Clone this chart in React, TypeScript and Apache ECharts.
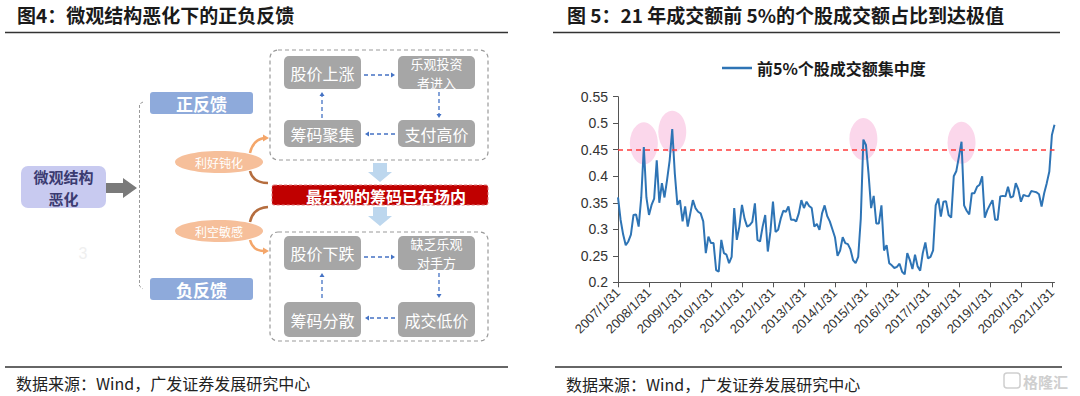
import React, { useEffect, useRef } from "react";
import * as echarts from "echarts";

const CJK = '"Noto Sans CJK SC", "Noto Sans", sans-serif';
const LAT = '"Liberation Sans", Arial, sans-serif';

const leftTitle = "图4：微观结构恶化下的正负反馈";
const rightTitle = "图 5：21 年成交额前 5%的个股成交额占比到达极值";
const sourceText = "数据来源：Wind，广发证券发展研究中心";
const seriesName = "前5%个股成交额集中度";

// monthly values (month-end), 2007/1 .. 2021/2
const v2007 = [0.36, 0.318, 0.29, 0.27, 0.277, 0.29, 0.327, 0.328, 0.305, 0.36, 0.455, 0.36];
const v2008 = [0.327, 0.346, 0.358, 0.43, 0.35, 0.387, 0.36, 0.393, 0.43, 0.489, 0.405, 0.346];
const v2009 = [0.355, 0.315, 0.343, 0.305, 0.33, 0.355, 0.34, 0.333, 0.33, 0.315, 0.255, 0.286];
const v2010 = [0.274, 0.274, 0.223, 0.22, 0.28, 0.255, 0.252, 0.236, 0.248, 0.34, 0.28, 0.305];
const v2011 = [0.346, 0.32, 0.305, 0.308, 0.314, 0.349, 0.28, 0.277, 0.305, 0.327, 0.258, 0.295];
const v2012 = [0.352, 0.295, 0.299, 0.32, 0.335, 0.333, 0.343, 0.318, 0.318, 0.315, 0.33, 0.355];
const v2013 = [0.34, 0.352, 0.344, 0.34, 0.305, 0.31, 0.299, 0.33, 0.345, 0.325, 0.315, 0.3];
const v2014 = [0.285, 0.25, 0.26, 0.285, 0.274, 0.272, 0.262, 0.242, 0.236, 0.248, 0.32, 0.469];
const v2015 = [0.459, 0.405, 0.34, 0.363, 0.311, 0.311, 0.345, 0.26, 0.27, 0.236, 0.232, 0.227];
const v2016 = [0.229, 0.235, 0.22, 0.215, 0.255, 0.242, 0.225, 0.252, 0.23, 0.222, 0.255, 0.275];
const v2017 = [0.245, 0.248, 0.26, 0.345, 0.358, 0.324, 0.352, 0.353, 0.327, 0.322, 0.4, 0.41];
const v2018 = [0.437, 0.465, 0.345, 0.335, 0.328, 0.368, 0.368, 0.38, 0.384, 0.4, 0.322, 0.336];
const v2019 = [0.346, 0.355, 0.318, 0.318, 0.362, 0.363, 0.362, 0.38, 0.36, 0.362, 0.387, 0.375];
const v2020 = [0.352, 0.365, 0.363, 0.362, 0.372, 0.371, 0.37, 0.366, 0.343, 0.368, 0.387, 0.409];
const v2021 = [0.478, 0.497];

const yearly = [v2007, v2008, v2009, v2010, v2011, v2012, v2013, v2014, v2015, v2016, v2017, v2018, v2019, v2020, v2021];
const startYear = 2007;

// highlighted peaks (category index, value)
const peakIdx = [10, 21, 95, 133];
const peakVal = [0.462, 0.484, 0.47, 0.463];

const threshold = 0.45;

const values: number[] = [];
const categories: string[] = [];
yearly.forEach((arr, yi) => {
  arr.forEach((v, mi) => {
    const y = startYear + yi;
    const d = new Date(y, mi + 1, 0).getDate();
    categories.push(`${y}/${mi + 1}/${d}`);
    values.push(v);
  });
});

const isJan = (i: number) => i % 12 === 0;

function txt(x: number, y: number, text: string, font: string, fill: string, align = "center") {
  return {
    type: "text",
    x,
    y,
    style: { text, fill, font, textAlign: align, align, textVerticalAlign: "middle", verticalAlign: "middle" },
  };
}

function boxEls(x: number, y: number, w: number, h: number, fill: string, lines: string[], font: string, color: string, r = 5, lh = 17) {
  const els: any[] = [{ type: "rect", shape: { x, y, width: w, height: h, r }, style: { fill } }];
  const cy = y + h / 2;
  const n = lines.length;
  lines.forEach((t, i) => {
    els.push(txt(x + w / 2, cy + (i - (n - 1) / 2) * lh, t, font, color));
  });
  return els;
}

function dashArrow(x1: number, y1: number, x2: number, y2: number) {
  const dx = x2 - x1, dy = y2 - y1;
  const len = Math.sqrt(dx * dx + dy * dy);
  const ux = dx / len, uy = dy / len;
  const px = -uy, py = ux;
  const hl = 4, hw = 2.5;
  return [
    { type: "line", shape: { x1, y1, x2: x2 - ux * hl, y2: y2 - uy * hl }, style: { stroke: "#4472c4", lineWidth: 1.3, lineDash: [4, 3] } },
    {
      type: "polygon",
      shape: { points: [[x2, y2], [x2 - ux * hl + px * hw, y2 - uy * hl + py * hw], [x2 - ux * hl - px * hw, y2 - uy * hl - py * hw]] },
      style: { fill: "#4472c4" },
    },
  ];
}

const GRAY = "#a6a6a6";
const boxFont = `16px ${CJK}`;
const box2Font = `13px ${CJK}`;

const diagram: any[] = [
  // titles and rules
  txt(17, 14, leftTitle, `bold 19px ${CJK}`, "#1a1a1a", "left"),
  { type: "line", shape: { x1: 5, y1: 32.5, x2: 508, y2: 32.5 }, style: { stroke: "#333", lineWidth: 1.5 } },
  txt(567, 14, rightTitle, `bold 19px ${CJK}`, "#1a1a1a", "left"),
  { type: "line", shape: { x1: 553, y1: 32.5, x2: 1060, y2: 32.5 }, style: { stroke: "#333", lineWidth: 1.5 } },
  { type: "line", shape: { x1: 5, y1: 367, x2: 508, y2: 367 }, style: { stroke: "#666", lineWidth: 2 } },
  { type: "line", shape: { x1: 555, y1: 367, x2: 1062, y2: 367 }, style: { stroke: "#666", lineWidth: 2 } },
  txt(16, 383, sourceText, `16px ${CJK}`, "#222", "left"),
  txt(566, 384, sourceText, `16px ${CJK}`, "#222", "left"),
  // watermark
  { type: "rect", shape: { x: 1004, y: 373, width: 16, height: 15, r: 3 }, style: { fill: "none", stroke: "#cfcfcf", lineWidth: 1.5 } },
  txt(1023, 381, "格隆汇", `bold 15px ${CJK}`, "#cfcfcf", "left"),
  // faint digit
  txt(83, 253, "3", `16px ${LAT}`, "#efefef"),

  // main source box
  ...boxEls(21, 166, 85, 42, "#c8caf0", ["微观结构", "恶化"], `bold 15px ${CJK}`, "#3b3b70", 7, 22),
  { type: "polygon", shape: { points: [[106, 183], [123, 183], [123, 178], [137, 188], [123, 198], [123, 193], [106, 193]] }, style: { fill: "#7a7a7a" } },
  // bracket
  { type: "polyline", shape: { points: [[143, 102], [139.5, 104], [139.5, 286], [143, 289]] }, style: { stroke: "#999", lineWidth: 1, lineDash: [3, 2], fill: "none" } },
  ...boxEls(150, 92, 103, 22, "#8eaadb", ["正反馈"], `bold 17px ${CJK}`, "#ffffff", 3),
  ...boxEls(150, 278, 103, 22, "#8eaadb", ["负反馈"], `bold 17px ${CJK}`, "#ffffff", 3),
  // ellipses
  { type: "ellipse", shape: { cx: 219, cy: 162, rx: 44, ry: 11 }, style: { fill: "#f6bf9a" } },
  txt(219, 162, "利好钝化", `12px ${CJK}`, "#fff"),
  { type: "ellipse", shape: { cx: 219, cy: 231, rx: 44, ry: 11 }, style: { fill: "#f6bf9a" } },
  txt(219, 231, "利空敏感", `12px ${CJK}`, "#fff"),
  // curved arrows
  { type: "bezierCurve", shape: { x1: 250, y1: 153, cpx1: 253, cpy1: 140, x2: 264, y2: 138 }, style: { stroke: "#f4a66a", lineWidth: 2.5, fill: "none" } },
  { type: "polygon", shape: { points: [[263, 134.5], [269, 138], [263, 141.5]] }, style: { fill: "#f4a66a" } },
  { type: "bezierCurve", shape: { x1: 250, y1: 171, cpx1: 253, cpy1: 183, x2: 268, y2: 183 }, style: { stroke: "#b56d3e", lineWidth: 2.5, fill: "none" } },
  { type: "bezierCurve", shape: { x1: 250, y1: 222, cpx1: 253, cpy1: 208, x2: 268, y2: 207 }, style: { stroke: "#b56d3e", lineWidth: 2.5, fill: "none" } },
  { type: "bezierCurve", shape: { x1: 250, y1: 240, cpx1: 253, cpy1: 251, x2: 264, y2: 251 }, style: { stroke: "#f4a66a", lineWidth: 2.5, fill: "none" } },
  { type: "polygon", shape: { points: [[263, 247.5], [269, 251], [263, 254.5]] }, style: { fill: "#f4a66a" } },

  // upper container
  { type: "rect", shape: { x: 270, y: 50, width: 218, height: 110, r: 8 }, style: { fill: "none", stroke: "#9a9a9a", lineWidth: 1.2, lineDash: [4, 3] } },
  ...boxEls(284, 56, 77, 33, GRAY, ["股价上涨"], boxFont, "#fff"),
  ...boxEls(398, 56, 77, 33, GRAY, ["乐观投资", "者进入"], box2Font, "#fff", 5, 19),
  ...boxEls(284, 120, 77, 27, GRAY, ["筹码聚集"], boxFont, "#fff"),
  ...boxEls(398, 120, 77, 27, GRAY, ["支付高价"], boxFont, "#fff"),
  ...dashArrow(364, 75, 395, 75),
  ...dashArrow(439, 92, 439, 118),
  ...dashArrow(395, 134, 365, 134),
  ...dashArrow(322, 118, 322, 92),

  // big down arrows
  { type: "polygon", shape: { points: [[373, 163], [387, 163], [387, 172], [392, 172], [380, 182], [368, 172], [373, 172]] }, style: { fill: "#bdd7ee" } },
  { type: "polygon", shape: { points: [[373, 207], [387, 207], [387, 216], [392, 216], [380, 226], [368, 216], [373, 216]] }, style: { fill: "#bdd7ee" } },
  // red banner
  { type: "rect", shape: { x: 272, y: 185, width: 216, height: 20, r: 2 }, style: { fill: "#c00000", stroke: "#e07a7a", lineWidth: 1, lineDash: [3, 2] } },
  txt(386, 195.5, "最乐观的筹码已在场内", `bold 16px ${CJK}`, "#fff"),

  // lower container
  { type: "rect", shape: { x: 270, y: 232, width: 218, height: 109, r: 8 }, style: { fill: "none", stroke: "#9a9a9a", lineWidth: 1.2, lineDash: [4, 3] } },
  ...boxEls(284, 236, 77, 34, GRAY, ["股价下跌"], boxFont, "#fff"),
  ...boxEls(398, 236, 77, 34, GRAY, ["缺乏乐观", "对手方"], box2Font, "#fff", 5, 19),
  ...boxEls(284, 302, 77, 35, GRAY, ["筹码分散"], boxFont, "#fff"),
  ...boxEls(398, 302, 77, 35, GRAY, ["成交低价"], boxFont, "#fff"),
  ...dashArrow(364, 257, 395, 257),
  ...dashArrow(439, 273, 439, 298),
  ...dashArrow(395, 318, 365, 318),
  ...dashArrow(322, 298, 322, 273),
];

const option: any = {
  animation: false,
  backgroundColor: "#ffffff",
  legend: {
    left: 717,
    top: 55,
    data: [seriesName],
    icon: "rect",
    itemWidth: 30,
    itemHeight: 2.5,
    textStyle: { fontSize: 16, fontWeight: "bold", color: "#1a1a1a", fontFamily: CJK },
  },
  grid: { left: 618, top: 96.7, width: 436.5, height: 185.6, containLabel: false },
  xAxis: {
    type: "category",
    data: categories,
    boundaryGap: false,
    axisLine: { lineStyle: { color: "#555", width: 1 } },
    axisTick: { interval: (i: number) => isJan(i), length: 5, lineStyle: { color: "#555" } },
    axisLabel: { interval: (i: number) => isJan(i), rotate: 45, fontSize: 13, color: "#333", fontFamily: LAT, margin: 8 },
    splitLine: { show: false },
  },
  yAxis: {
    type: "value",
    min: 0.2,
    max: 0.55,
    interval: 0.05,
    axisLine: { show: true, lineStyle: { color: "#555", width: 1 } },
    axisTick: { show: true, length: 5, lineStyle: { color: "#555" } },
    axisLabel: { fontSize: 14, color: "#333", fontFamily: LAT, margin: 10, formatter: (v: number) => String(parseFloat(v.toFixed(2))) },
    splitLine: { show: false },
  },
  series: [
    {
      type: "scatter",
      data: peakIdx.map((i, k) => [i, peakVal[k]]),
      symbol: "circle",
      symbolSize: [28, 42],
      itemStyle: { color: "rgba(247,172,214,0.6)" },
      z: 1,
      silent: true,
    },
    {
      type: "line",
      name: seriesName,
      data: values,
      symbol: "none",
      showSymbol: false,
      lineStyle: { color: "#2e74b5", width: 2 },
      itemStyle: { color: "#2e74b5" },
      z: 3,
      markLine: {
        silent: true,
        symbol: "none",
        label: { show: false },
        lineStyle: { color: "#ff3b3b", type: [5, 4], width: 1.5 },
        data: [{ yAxis: threshold }],
      },
    },
  ],
  graphic: { elements: diagram },
};

export default function App() {
  const ref = useRef<HTMLDivElement>(null);
  useEffect(() => {
    document.body.style.margin = "0";
    const chart = echarts.init(ref.current!, null, { renderer: "svg" });
    chart.setOption(option);
    return () => chart.dispose();
  }, []);
  return <div ref={ref} style={{ width: 1080, height: 396, position: "absolute", left: 0, top: 0, background: "#fff" }} />;
}
